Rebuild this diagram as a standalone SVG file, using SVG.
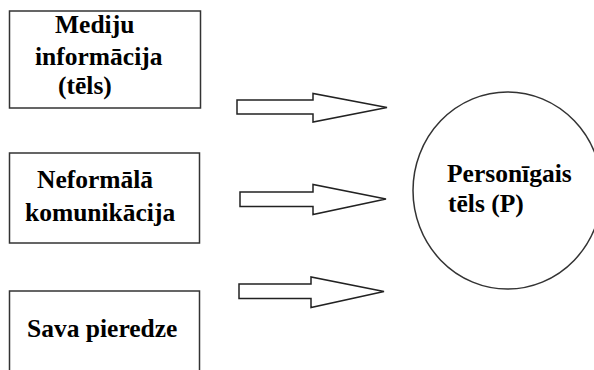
<svg xmlns="http://www.w3.org/2000/svg" width="594" height="370" viewBox="0 0 594 370">
<rect width="594" height="370" fill="#fff"/>
<g id="node-media">
<rect x="9.5" y="11" width="191" height="97" fill="#fff" stroke="#333" stroke-width="1.5"/>
<text x="55" y="33" font-family="Liberation Serif" font-weight="bold" font-size="25.5">Mediju</text>
<text x="35" y="65" font-family="Liberation Serif" font-weight="bold" font-size="25.5">informācija</text>
<text x="58" y="94" font-family="Liberation Serif" font-weight="bold" font-size="25.5">(tēls)</text>
</g>
<g id="node-neformala">
<rect x="9.5" y="153" width="190" height="90" fill="#fff" stroke="#333" stroke-width="1.5"/>
<text x="37" y="188" font-family="Liberation Serif" font-weight="bold" font-size="25.5">Neformālā</text>
<text x="25" y="221" font-family="Liberation Serif" font-weight="bold" font-size="25.5">komunikācija</text>
</g>
<g id="node-pieredze">
<rect x="9.5" y="291" width="190" height="90" fill="#fff" stroke="#333" stroke-width="1.5"/>
<text x="27" y="337" font-family="Liberation Serif" font-weight="bold" font-size="25.5">Sava pieredze</text>
</g>
<g id="node-personigais">
<ellipse cx="507.5" cy="190.5" rx="94.5" ry="98.5" fill="#fff" stroke="#333" stroke-width="1.5"/>
<text x="447" y="182" font-family="Liberation Serif" font-weight="bold" font-size="25.5">Personīgais</text>
<text x="448" y="212" font-family="Liberation Serif" font-weight="bold" font-size="25.5">tēls (P)</text>
</g>
<g id="connectors" fill="#fff" stroke="#222" stroke-width="1.5">
<polygon points="237,100 313,100 313,93.5 387,107.5 313,122 313,114 237,114"/>
<polygon points="240,192 313,192 313,184.5 386,199 313,214.5 313,206.5 240,206.5"/>
<polygon points="239,284 311,284 311,277 384,291.5 311,307.5 311,298.5 239,298.5"/>
</g>
</svg>
